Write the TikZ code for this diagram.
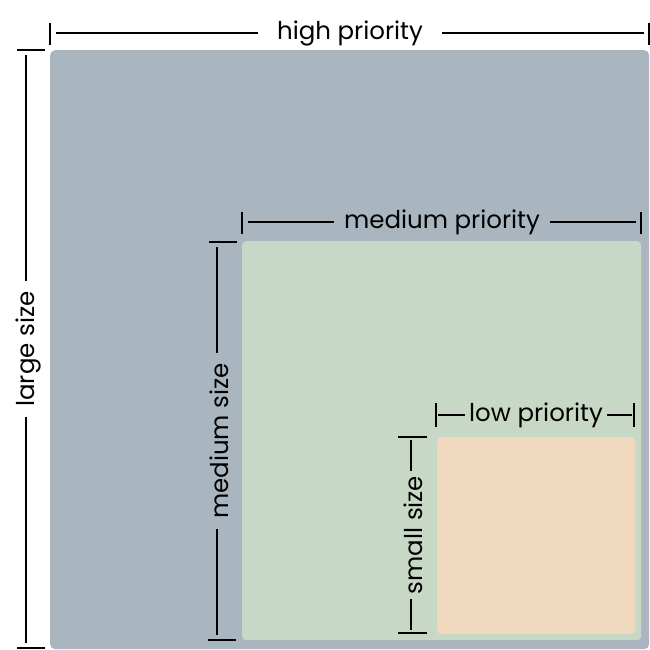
\documentclass[tikz,border=0pt]{standalone}
\usepackage{fontspec}
\setmainfont{Poppins}
\definecolor{bigfill}{HTML}{A9B6BF}
\definecolor{midfill}{HTML}{C7D8C6}
\definecolor{smallfill}{HTML}{F0D8BF}
\begin{document}
\begin{tikzpicture}[x=1pt,y=-1pt,
  box/.style={draw=none, rounded corners=5pt, inner sep=0pt, anchor=north west},
  dim/.style={line width=1.3pt, black},
  lbl/.style={font=\fontsize{24.5}{28}\selectfont, inner sep=0pt, text=black},
]
\useasboundingbox (0,0) rectangle (650,650);
\fill[white] (0,0) rectangle (650,650);

% the three nested areas
\node[box, fill=bigfill, minimum width=599pt, minimum height=599pt] (big) at (50,50) {};
\node[box, fill=midfill, minimum width=399pt, minimum height=399pt, rounded corners=4pt] (mid) at (242,241) {};
\node[box, fill=smallfill, minimum width=198pt, minimum height=197pt, rounded corners=4pt] (small) at (437,437) {};

% ---- high priority / large size
\node[lbl] (hp) at (350,33) {high priority};
\coordinate (hpL) at (50,33); \coordinate (hpR) at (649,33);
\draw[dim] (50,23) -- (50,45);
\draw[dim] (649,23) -- (649,45);
\draw[dim, shorten <=6pt] (hpL) -- ([xshift=-19pt]hp.west |- hpL);
\draw[dim, shorten <=5pt] (hpR) -- ([xshift=19pt]hp.east |- hpR);

\node[lbl, rotate=90] (ls) at (28,349) {large size};
\coordinate (lsT) at (26,50); \coordinate (lsB) at (26,648);
\draw[dim] (17,50) -- (45,50);
\draw[dim] (17,648) -- (45,648);
\draw[dim, shorten <=5pt] (lsT) -- ([yshift=10pt]lsT |- ls.east);
\draw[dim, shorten <=5pt] (lsB) -- ([yshift=-10pt]lsB |- ls.west);

% ---- medium priority / medium size
\node[lbl] (mp) at (442,222) {medium priority};
\coordinate (mpL) at (242,222); \coordinate (mpR) at (641,222);
\draw[dim] (242,212) -- (242,234);
\draw[dim] (641,212) -- (641,234);
\draw[dim, shorten <=6pt] (mpL) -- ([xshift=-10pt]mp.west |- mpL);
\draw[dim, shorten <=5pt] (mpR) -- ([xshift=10pt]mp.east |- mpR);

\node[lbl, rotate=90] (ms) at (219,441) {medium size};
\coordinate (msT) at (217,242); \coordinate (msB) at (217,640);
\draw[dim] (209,242) -- (237,242);
\draw[dim] (208,640) -- (236,640);
\draw[dim, shorten <=5pt] (msT) -- ([yshift=10pt]msT |- ms.east);
\draw[dim, shorten <=5pt] (msB) -- ([yshift=-10pt]msB |- ms.west);

% ---- low priority / small size
\node[lbl] (lp) at (536,415) {low priority};
\coordinate (lpL) at (436,415); \coordinate (lpR) at (634,415);
\draw[dim] (436,403) -- (436,427);
\draw[dim] (634,403) -- (634,427);
\draw[dim, shorten <=2pt] (lpL) -- ([xshift=-4pt]lp.west |- lpL);
\draw[dim, shorten <=2pt] (lpR) -- ([xshift=4pt]lp.east |- lpR);

\node[lbl, rotate=90] (ss) at (413,535) {small size};
\coordinate (ssT) at (411,437); \coordinate (ssB) at (411,633);
\draw[dim] (398,437) -- (427,437);
\draw[dim] (398,633) -- (427,633);
\draw[dim, shorten <=3pt] (ssT) -- ([yshift=5pt]ssT |- ss.east);
\draw[dim, shorten <=3pt] (ssB) -- ([yshift=-5pt]ssB |- ss.west);
\end{tikzpicture}
\end{document}
